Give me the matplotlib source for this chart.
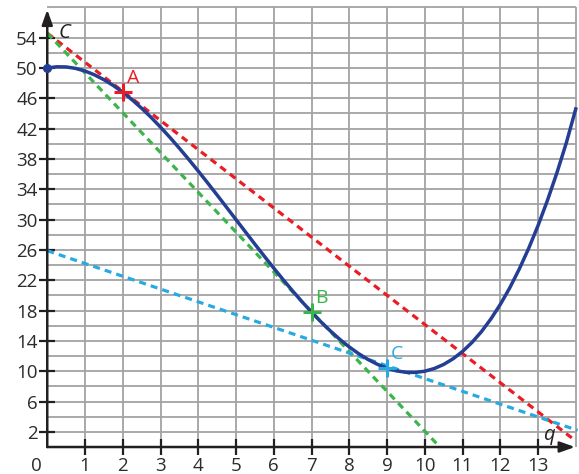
import numpy as np
import matplotlib
matplotlib.use("Agg")
import matplotlib.pyplot as plt

plt.rcParams['font.family'] = ['Open Sans', 'DejaVu Sans']

# Cost curve C(q), sampled every 0.25 unit of q
q_vals = [0.0, 0.25, 0.5, 0.75, 1.0, 1.25, 1.5, 1.75, 2.0, 2.25, 2.5, 2.75, 3.0,
          3.25, 3.5, 3.75, 4.0, 4.25, 4.5, 4.75, 5.0, 5.25, 5.5, 5.75, 6.0, 6.25,
          6.5, 6.75, 7.0, 7.25, 7.5, 7.75, 8.0, 8.25, 8.5, 8.75, 9.0, 9.25, 9.5,
          9.75, 10.0, 10.25, 10.5, 10.75, 11.0, 11.25, 11.5, 11.75, 12.0, 12.25,
          12.5, 12.75, 13.0, 13.25, 13.5, 13.75, 14.0]
c_vals = [50.0, 50.16, 50.14, 49.95, 49.6, 49.1, 48.46, 47.69, 46.8, 45.8, 44.69,
          43.49, 42.2, 40.84, 39.41, 37.93, 36.4, 34.83, 33.24, 31.62, 30.0, 28.38,
          26.76, 25.17, 23.6, 22.07, 20.59, 19.16, 17.8, 16.51, 15.31, 14.2, 13.2,
          12.31, 11.54, 10.9, 10.4, 10.05, 9.86, 9.84, 10.0, 10.35, 10.89, 11.64,
          12.6, 13.79, 15.21, 16.88, 18.8, 20.98, 23.44, 26.17, 29.2, 32.53, 36.16,
          40.12, 44.6]

# Tangent lines, each given by its two end points (q, C)
tangent_A = ([0.0, 14.0], [54.6, 0.8])
tangent_B = ([0.0, 10.4], [54.6, 0.0])
tangent_C = ([0.0, 14.05], [25.9, 2.2])

# Points of tangency
point_names = ["A", "B", "C"]
point_q = [2, 7, 9]
point_c = [46.8, 17.8, 10.4]

x_ticks = list(range(1, 14))
y_ticks = list(range(2, 55, 4))

blue = "#233e93"
red = "#ec1c24"
green = "#3ab54a"
cyan = "#27aae1"
ink = "#231f20"
label_col = "#2b2b2b"

fig = plt.figure(figsize=(5.79, 4.74), dpi=100)
ax = fig.add_axes([0, 0, 1, 1])
ax.set_xlim(-1.2517, 14.086)
ax.set_ylim(-3.56, 58.97)

# grid
grid_x = np.arange(1, 15)
grid_y = np.arange(2, 59, 2)
ax.vlines(grid_x, 0, 58, color="#a3a3a3", lw=1.3, zorder=1)
ax.hlines(grid_y, 0, 14, color="#a3a3a3", lw=1.3, zorder=1)

for s in ax.spines.values():
    s.set_visible(False)
ax.spines['left'].set_position(('data', 0))
ax.spines['bottom'].set_position(('data', 0))

ax.set_xticks(x_ticks)
ax.set_yticks(y_ticks)
ax.tick_params(axis='both', direction='inout', length=11, width=1.6,
               color=ink, labelcolor=label_col, labelsize=13.5)
ax.tick_params(axis='x', pad=1.5)
ax.tick_params(axis='y', pad=1.5)

# axes with arrow heads
arrow_kw = dict(arrowstyle='-|>,head_length=0.9,head_width=0.32', lw=1.8,
                color=ink, shrinkA=0, shrinkB=0)
ax.annotate('', xy=(0, 57.7), xytext=(0, 0), arrowprops=arrow_kw, zorder=5)
ax.annotate('', xy=(13.98, 0), xytext=(0, 0), arrowprops=arrow_kw, zorder=5)

# origin label, aligned with the q tick labels
ax.text(-0.3, -1.27, "0", ha='center', va='top', fontsize=13.5, color=label_col)
ax.text(0.29, 54.0, "C", ha='left', va='baseline', fontsize=14.5, style='italic',
        color=ink)
ax.text(13.13, 0.9, "q", ha='left', va='baseline', fontsize=14.5, style='italic',
        color=ink)

# tangents
dash = (0, (2.2, 1.6))
ax.plot(*tangent_A, color=red, lw=2.3, ls=dash, zorder=3, clip_on=False)
ax.plot(*tangent_B, color=green, lw=2.3, ls=dash, zorder=3, clip_on=False)
ax.plot(*tangent_C, color=cyan, lw=2.3, ls=dash, zorder=3, clip_on=False)

# cost curve
ax.plot(q_vals, c_vals, color=blue, lw=2.5, zorder=4, clip_on=False)
ax.plot(q_vals[0], c_vals[0], 'o', color=blue, ms=5.5, zorder=6, clip_on=False)

colors = [red, green, cyan]
for name, qx, cy, col in zip(point_names, point_q, point_c, colors):
    ax.plot(qx, cy, marker='+', color=col, ms=13, mew=2.2, zorder=6)
    ax.text(qx + 0.1, cy + 1.2, name, color=col, fontsize=14, ha='left',
            va='baseline')

fig.savefig("out.png", dpi=100)
